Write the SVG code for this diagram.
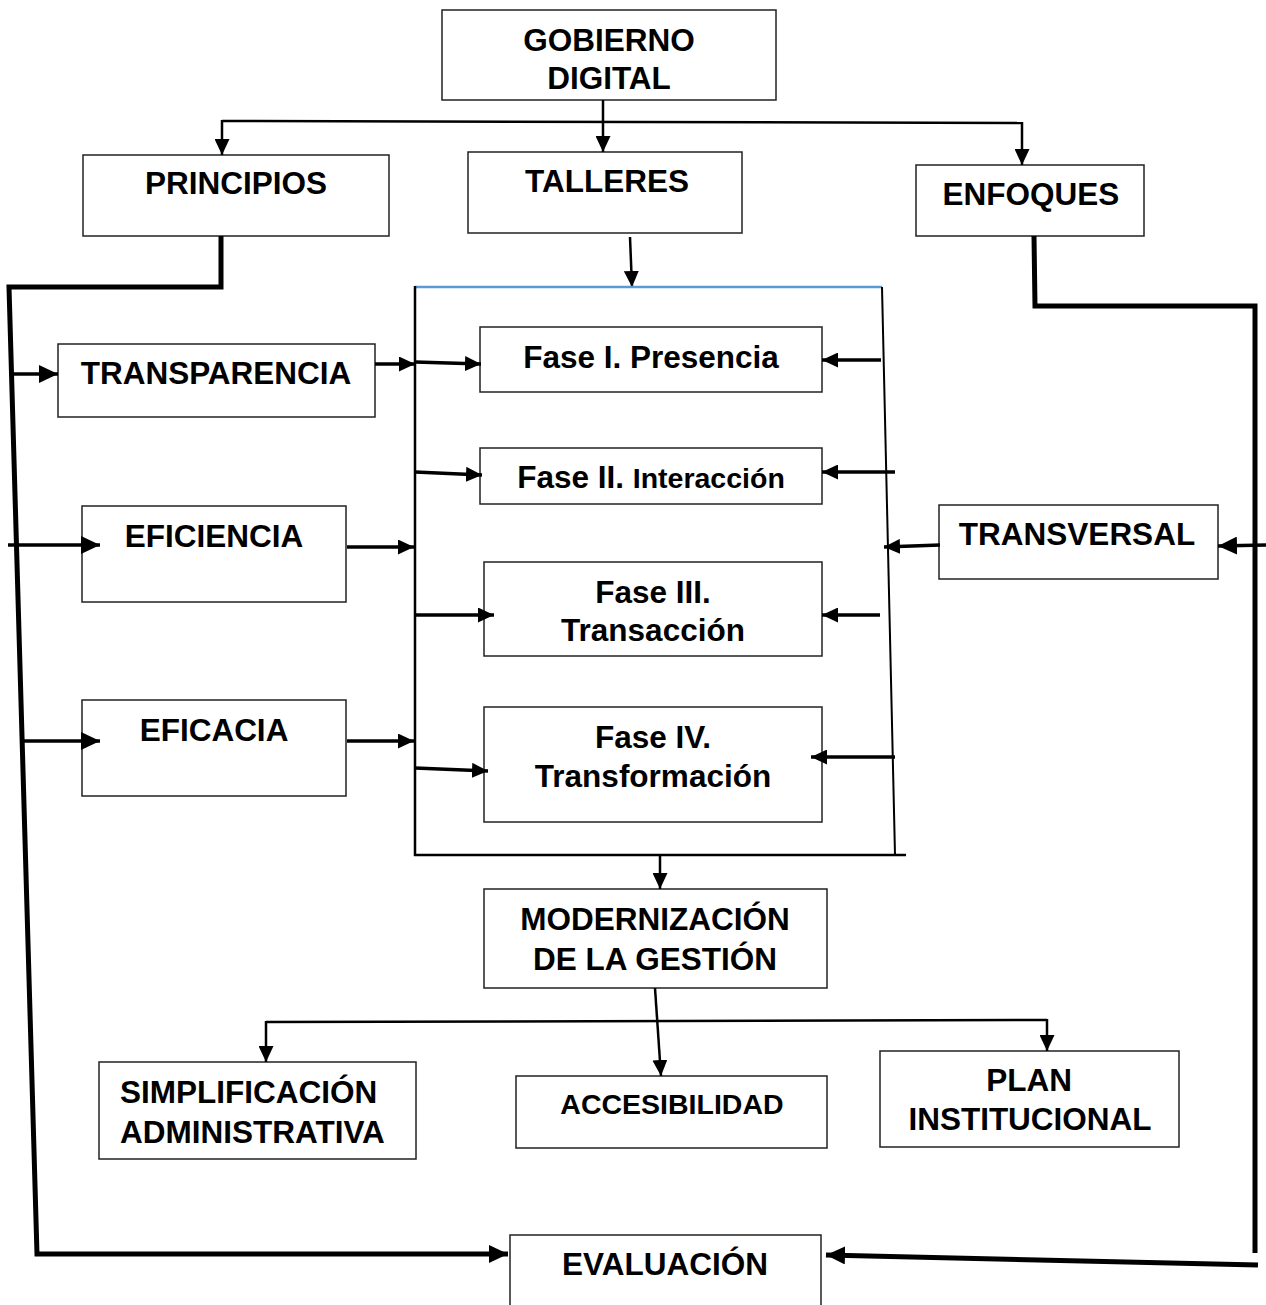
<svg xmlns="http://www.w3.org/2000/svg" width="1266" height="1305" viewBox="0 0 1266 1305">
<style>
.box{fill:#fff;stroke:#222;stroke-width:1.5}
.t{font-family:"Liberation Sans",Arial,sans-serif;font-weight:bold;font-size:31.5px;fill:#000;text-anchor:middle}
.c{fill:none;stroke:#000;stroke-linecap:butt;stroke-linejoin:miter}
.thin{stroke-width:2.5}
.med{stroke-width:3.5}
.thick{stroke-width:5}
</style>
<defs>
<marker id="a" markerUnits="userSpaceOnUse" viewBox="0 0 16 15" markerWidth="16" markerHeight="15" refX="16" refY="7.5" orient="auto"><path d="M0,0 L16,7.5 L0,15 z" fill="#000"/></marker>
<marker id="b" markerUnits="userSpaceOnUse" viewBox="0 0 19 18" markerWidth="19" markerHeight="18" refX="19" refY="9" orient="auto"><path d="M0,0 L19,9 L0,18 z" fill="#000"/></marker>
</defs>

<g id="gobierno"><rect class="box" x="442" y="10" width="334" height="90"/><text class="t" x="609" y="51">GOBIERNO</text><text class="t" x="609" y="89">DIGITAL</text></g>
<g id="principios"><rect class="box" x="83" y="155" width="306" height="81"/><text class="t" x="236" y="194">PRINCIPIOS</text></g>
<g id="talleres"><rect class="box" x="468" y="152" width="274" height="81"/><text class="t" x="607" y="192">TALLERES</text></g>
<g id="enfoques"><rect class="box" x="916" y="165" width="228" height="71"/><text class="t" x="1031" y="205">ENFOQUES</text></g>
<g id="transparencia"><rect class="box" x="58" y="344" width="317" height="73"/><text class="t" x="216" y="384">TRANSPARENCIA</text></g>
<g id="eficiencia"><rect class="box" x="82" y="506" width="264" height="96"/><text class="t" x="214" y="547">EFICIENCIA</text></g>
<g id="eficacia"><rect class="box" x="82" y="700" width="264" height="96"/><text class="t" x="214" y="741">EFICACIA</text></g>
<g id="fase1"><rect class="box" x="480" y="327" width="342" height="65"/><text class="t" x="651" y="368">Fase I. Presencia</text></g>
<g id="fase2"><rect class="box" x="480" y="448" width="342" height="56"/><text class="t" x="651" y="488">Fase II. <tspan style="font-size:28.5px">Interacción</tspan></text></g>
<g id="transversal"><rect class="box" x="939" y="505" width="279" height="74"/><text class="t" x="1077" y="545">TRANSVERSAL</text></g>
<g id="fase3"><rect class="box" x="484" y="562" width="338" height="94"/><text class="t" x="653" y="603">Fase III.</text><text class="t" x="653" y="641">Transacción</text></g>
<g id="fase4"><rect class="box" x="484" y="707" width="338" height="115"/><text class="t" x="653" y="748">Fase IV.</text><text class="t" x="653" y="787">Transformación</text></g>
<g id="modernizacion"><rect class="box" x="484" y="889" width="343" height="99"/><text class="t" x="655" y="930">MODERNIZACIÓN</text><text class="t" x="655" y="970">DE LA GESTIÓN</text></g>
<g id="simplificacion"><rect class="box" x="99" y="1062" width="317" height="97"/><text class="t" x="120" y="1103" style="text-anchor:start">SIMPLIFICACIÓN</text><text class="t" x="120" y="1143" style="text-anchor:start">ADMINISTRATIVA</text></g>
<g id="accesibilidad"><rect class="box" x="516" y="1076" width="311" height="72"/><text class="t" x="672" y="1114" style="font-size:28.5px">ACCESIBILIDAD</text></g>
<g id="plan"><rect class="box" x="880" y="1051" width="299" height="96"/><text class="t" x="1029" y="1091">PLAN</text><text class="t" x="1030" y="1130">INSTITUCIONAL</text></g>
<g id="evaluacion"><rect class="box" x="510" y="1235" width="311" height="80"/><text class="t" x="665" y="1275">EVALUACIÓN</text></g>

<g id="connectors">
<line class="c thin" x1="603" y1="100" x2="603" y2="152" marker-end="url(#a)"/>
<line class="c thin" x1="222" y1="121" x2="1022" y2="123"/>
<line class="c thin" x1="222" y1="120" x2="222" y2="155" marker-end="url(#a)"/>
<line class="c thin" x1="1022" y1="122" x2="1022" y2="165" marker-end="url(#a)"/>
<line class="c thin" x1="630" y1="237" x2="632" y2="287" marker-end="url(#a)"/>
<line class="c" style="stroke:#5B9BD5;stroke-width:2.5" x1="415" y1="287" x2="882" y2="287"/>
<line class="c thin" x1="415" y1="286" x2="415" y2="856"/>
<line class="c" style="stroke-width:2" x1="882" y1="287" x2="895" y2="855"/>
<line class="c thin" x1="414" y1="855" x2="906" y2="855"/>
<polyline class="c thick" points="221,236 221,287 9,287 37,1254 508,1254" marker-end="url(#b)"/>
<line class="c med" x1="12" y1="374" x2="58" y2="374" marker-end="url(#b)"/>
<line class="c med" x1="8" y1="545" x2="100" y2="545" marker-end="url(#b)"/>
<line class="c med" x1="24" y1="741" x2="100" y2="741" marker-end="url(#b)"/>
<line class="c med" x1="375" y1="364" x2="415" y2="364" marker-end="url(#a)"/>
<line class="c med" x1="347" y1="547" x2="414" y2="547" marker-end="url(#a)"/>
<line class="c med" x1="347" y1="741" x2="414" y2="741" marker-end="url(#a)"/>
<line class="c med" x1="415" y1="362" x2="481" y2="364" marker-end="url(#a)"/>
<line class="c med" x1="415" y1="472" x2="482" y2="475" marker-end="url(#a)"/>
<line class="c med" x1="415" y1="615" x2="494" y2="615" marker-end="url(#a)"/>
<line class="c med" x1="415" y1="768" x2="488" y2="771" marker-end="url(#a)"/>
<line class="c med" x1="881" y1="360" x2="822" y2="360" marker-end="url(#a)"/>
<line class="c med" x1="895" y1="472" x2="822" y2="472" marker-end="url(#a)"/>
<line class="c med" x1="880" y1="615" x2="822" y2="615" marker-end="url(#a)"/>
<line class="c med" x1="895" y1="757" x2="811" y2="757" marker-end="url(#a)"/>
<line class="c med" x1="940" y1="545" x2="884" y2="547" marker-end="url(#a)"/>
<polyline class="c thick" points="1034,236 1035,306 1255,306 1255,1253"/>
<line class="c med" x1="1266" y1="545" x2="1218" y2="546" marker-end="url(#b)"/>
<line class="c thick" x1="1258" y1="1265" x2="826" y2="1255" marker-end="url(#b)"/>
<line class="c thin" x1="660" y1="855" x2="660" y2="889" marker-end="url(#a)"/>
<line class="c thin" x1="655" y1="988" x2="661" y2="1076" marker-end="url(#a)"/>
<line class="c thin" x1="266" y1="1022" x2="1047" y2="1020"/>
<line class="c thin" x1="266" y1="1021" x2="266" y2="1062" marker-end="url(#a)"/>
<line class="c thin" x1="1047" y1="1019" x2="1047" y2="1051" marker-end="url(#a)"/>
</g>
</svg>
